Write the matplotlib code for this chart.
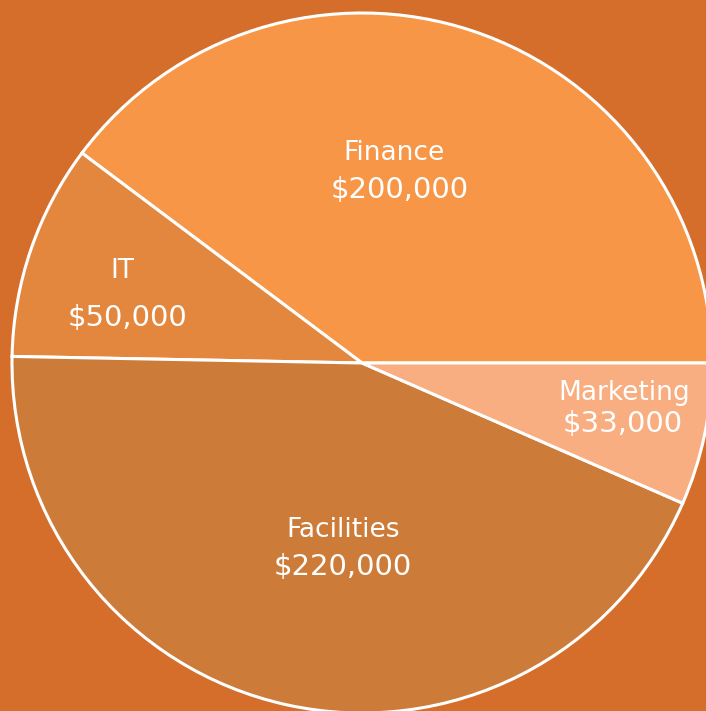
import matplotlib
matplotlib.use("Agg")
import matplotlib.pyplot as plt

# data
departments = ["Finance", "IT", "Facilities", "Marketing"]
budgets = [200000, 50000, 220000, 33000]
budget_labels = ["$200,000", "$50,000", "$220,000", "$33,000"]

colors = ["#F79646", "#E3873E", "#CD7B38", "#F8AE80"]
bg = "#D56E2B"

# label anchors (name, value) in axes data units, pie radius = 1
name_pos = [(0.091, 0.600), (-0.686, 0.262), (-0.054, -0.477), (0.749, -0.086)]
value_pos = [(0.109, 0.494), (-0.669, 0.129), (-0.054, -0.583), (0.746, -0.174)]

W, H = 706, 711
fig = plt.figure(figsize=(W / 100, H / 100), dpi=100)
fig.patch.set_facecolor(bg)

# pie centre at (362, 363) px from top-left, radius 350 px
cx, cy, r = 362, 363, 350
ax = fig.add_axes([(cx - r) / W, (H - cy - r) / H, 2 * r / W, 2 * r / H])
ax.set_facecolor(bg)

ax.pie(budgets, colors=colors, startangle=0, counterclock=True, radius=1,
       wedgeprops=dict(edgecolor="white", linewidth=2.2))
ax.set_xlim(-1, 1)
ax.set_ylim(-1, 1)
ax.set_aspect("equal")
ax.axis("off")

for name, val, (nx, ny), (vx, vy) in zip(departments, budget_labels, name_pos, value_pos):
    ax.text(nx, ny, name, color="white", fontsize=19, ha="center", va="center",
            family="DejaVu Sans")
    ax.text(vx, vy, val, color="white", fontsize=21, ha="center", va="center",
            family="DejaVu Sans")

fig.savefig("out.png", dpi=100, facecolor=bg)
